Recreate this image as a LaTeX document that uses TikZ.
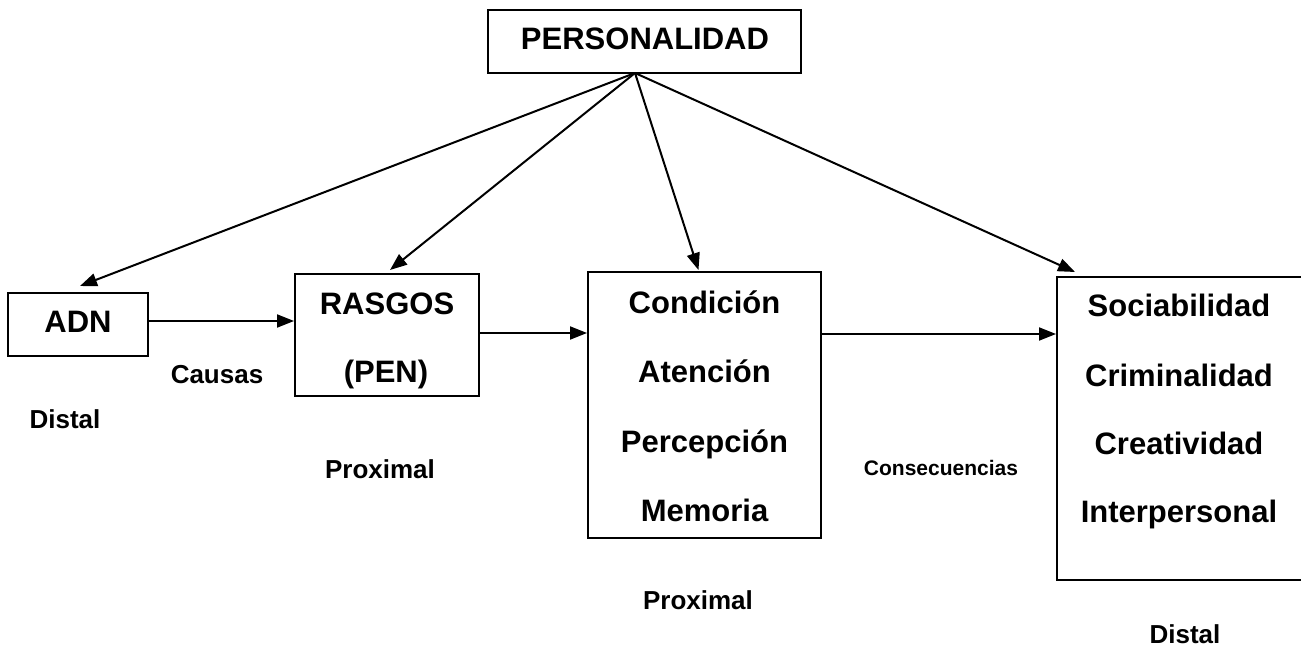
\documentclass[tikz,border=0pt]{standalone}
\usepackage{fontspec}
\setmainfont{Liberation Sans}
\usetikzlibrary{arrows.meta,calc}
\begin{document}
\begin{tikzpicture}[x=0.5pt,y=-0.5pt,
  box/.style={draw,line width=1pt,inner sep=0pt},
  big/.style={font=\bfseries\fontsize{15.5}{18}\selectfont,anchor=base,inner sep=0pt},
  lab/.style={font=\bfseries\fontsize{13}{15}\selectfont,anchor=base,inner sep=0pt},
  smalllab/.style={font=\bfseries\fontsize{10.5}{12}\selectfont,anchor=base,inner sep=0pt},
  arr/.style={-{Triangle[length=8.5pt,width=6.5pt]},line width=1pt}]
\useasboundingbox[fill=white] (0,0) rectangle (1301,646);
% boxes
\node[box,minimum width=156.5pt,minimum height=31.5pt] (pers) at (644.5,41.5) {};
\node[box,minimum width=70pt,minimum height=31.5pt] (adn) at (78,324.5) {};
\node[box,minimum width=92pt,minimum height=61pt] (rasgos) at (387,335) {};
\node[box,minimum width=116.5pt,minimum height=133pt] (cond) at (704.5,405) {};
\node[box,minimum width=131.5pt,minimum height=151.5pt] (soc) at (1188.5,428.5) {};
% texts
\node[big] (tpers) at (645,50) {PERSONALIDAD};
\node[big] (tadn) at (78,333) {ADN};
\node[big] (tr1) at (387,315) {RASGOS};
\node[big] (tr2) at (386,383) {(PEN)};
\node[big] (tc1) at (704.5,314) {Condición};
\node[big] (tc2) at (704.5,383) {Atención};
\node[big] (tc3) at (704.5,452) {Percepción};
\node[big] (tc4) at (704.5,521) {Memoria};
\node[big] (ts1) at (1179,317) {Sociabilidad};
\node[big] (ts2) at (1179,387) {Criminalidad};
\node[big] (ts3) at (1179,455) {Creatividad};
\node[big] (ts4) at (1179,523) {Interpersonal};
% labels
\node[lab] (causas) at (217,384) {Causas};
\node[lab] (dist1) at (65,429) {Distal};
\node[lab] (prox1) at (380,479) {Proximal};
\node[lab] (prox2) at (698,609) {Proximal};
\node[smalllab] (conse) at (941,475) {Consecuencias};
\node[lab] (dist2) at (1185,643) {Distal};
% arrows from PERSONALIDAD
\coordinate (o) at (635,73);
\draw[arr] (o) -- ($(adn.north)+(2,-6)$);
\draw[arr] (o) -- ($(rasgos.north)+(3,-3)$);
\draw[arr] (o) -- ($(cond.north)+(-6,-1)$);
\draw[arr] (o) -- ($(soc.north west)+(19,-4)$);
% horizontal arrows
\coordinate (a1) at ($(adn.east)+(0,-3.5)$);
\draw[arr] (a1) -- (a1 -| rasgos.west);
\coordinate (a2) at ($(rasgos.east)+(0,-2)$);
\draw[arr] (a2) -- (a2 -| cond.west);
\coordinate (a3) at ($(cond.east)+(0,-71)$);
\draw[arr] (a3) -- (a3 -| soc.west);
\end{tikzpicture}
\end{document}
